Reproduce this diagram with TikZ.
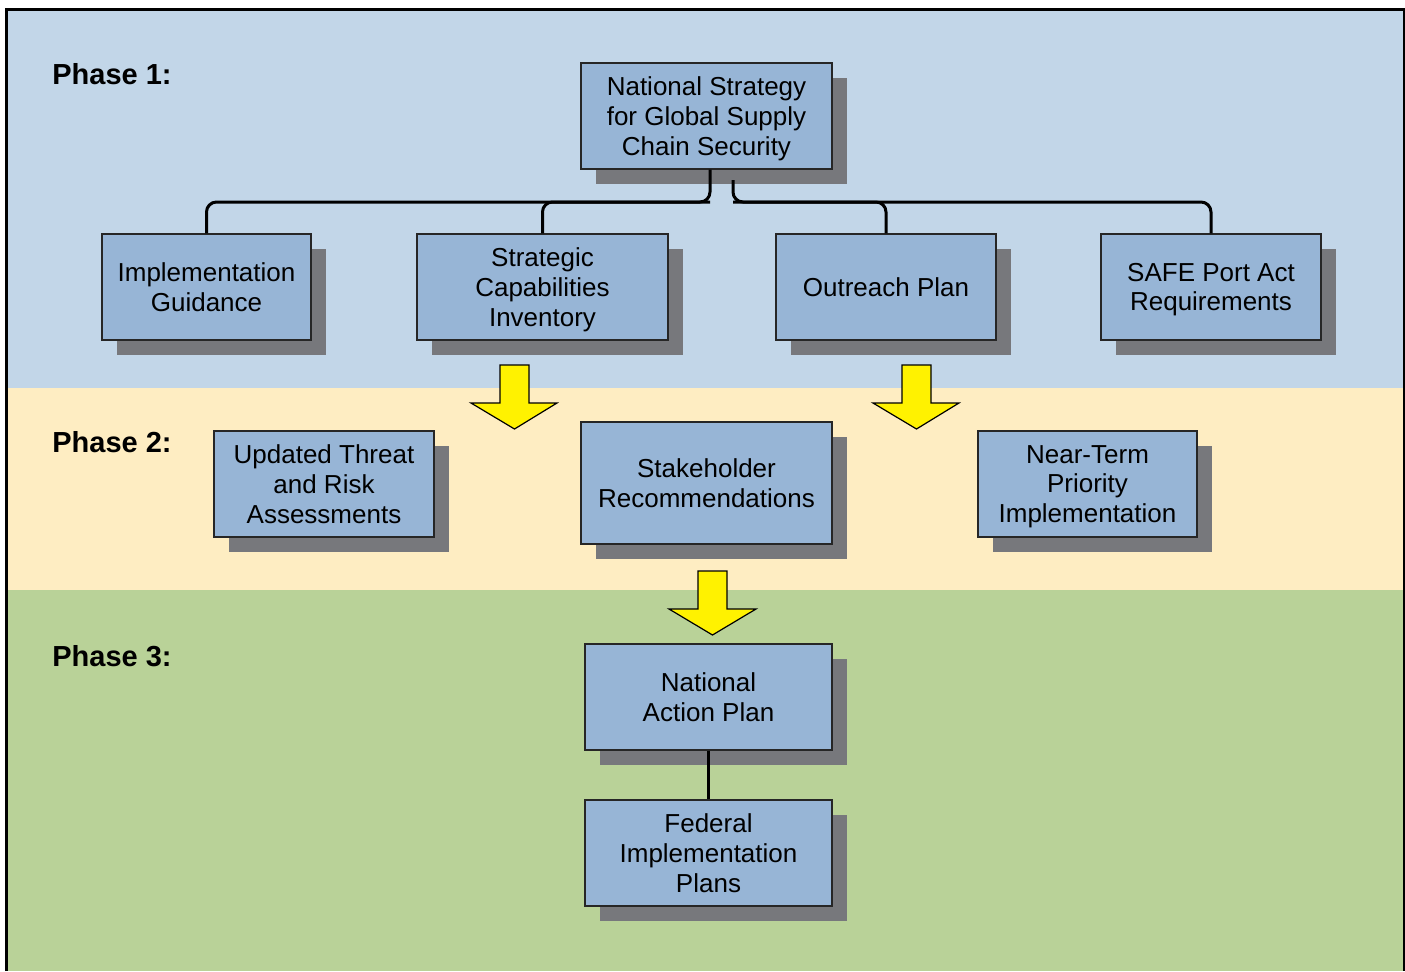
\documentclass[tikz,border=0pt]{standalone}
\usepackage{fontspec}
\setmainfont{Liberation Sans}
\usetikzlibrary{shadows,calc}
\definecolor{bandblue}{HTML}{C2D6E8}
\definecolor{bandyellow}{HTML}{FEEDC2}
\definecolor{bandgreen}{HTML}{B9D298}
\definecolor{boxfill}{HTML}{97B5D6}
\definecolor{shadowgray}{HTML}{77787C}
\definecolor{arrowyellow}{HTML}{FFF200}
\begin{document}
\begin{tikzpicture}[x=0.5pt,y=-0.5pt,
  stepbox/.style={draw=black!85, line width=0.7pt, fill=boxfill, align=center, inner sep=0pt,
    text depth=0pt,
    font=\fontsize{13pt}{14.8pt}\selectfont,
    drop shadow={shadow xshift=7.5pt, shadow yshift=-7.5pt, fill=shadowgray, opacity=1}},
  phaselabel/.style={anchor=west, font=\fontsize{14.5pt}{16pt}\selectfont\bfseries, inner sep=0pt},
  conn/.style={line width=1.5pt, rounded corners=5pt},
  blockarrow/.style={draw=black, line width=0.6pt, fill=arrowyellow, line join=miter}]
\useasboundingbox (0,0) rectangle (1405,971);
\fill[white] (0,0) rectangle (1405,971);
% bands
\fill[bandblue] (6,9) rectangle (1404,388);
\fill[bandyellow] (6,388) rectangle (1404,590);
\fill[bandgreen] (6,590) rectangle (1404,971);
\draw[line width=1.5pt] (6,971) -- (6,9) -- (1404,9) -- (1404,971);

% phase labels
\node[phaselabel] (p1) at (52,74) {Phase 1:};
\node[phaselabel] (p2) at (52,442) {Phase 2:};
\node[phaselabel] (p3) at (52,656) {Phase 3:};

\coordinate (busL) at (710,202);
\coordinate (busR) at (733,202);

% boxes
\node[stepbox, minimum width=125.5pt, minimum height=53pt] (ns) at (706.5,116) {National Strategy\\for Global Supply\\Chain Security};
\node[stepbox, minimum width=104.5pt, minimum height=53pt] (ig) at (206.5,287) {Implementation\\Guidance};
\node[stepbox, minimum width=125.5pt, minimum height=53pt] (sci) at (542.5,287) {Strategic\\Capabilities\\Inventory};
\node[stepbox, minimum width=110pt, minimum height=53pt] (op) at (886,287) {Outreach Plan};
\node[stepbox, minimum width=110pt, minimum height=53pt] (safe) at (1211,287) {SAFE Port Act\\Requirements};
\node[stepbox, minimum width=110pt, minimum height=53pt] (utra) at (324,484) {Updated Threat\\and Risk\\Assessments};
\node[stepbox, minimum width=125.5pt, minimum height=61pt] (sr) at (706.5,483) {Stakeholder\\Recommendations};
\node[stepbox, minimum width=109.5pt, minimum height=53pt] (ntpi) at (1087.5,484) {Near-Term\\Priority\\Implementation};
\node[stepbox, minimum width=123.5pt, minimum height=53pt] (nap) at (708.5,697) {National\\Action Plan};
\node[stepbox, minimum width=123.5pt, minimum height=53pt] (fip) at (708.5,853) {Federal\\Implementation\\Plans};

% tree connectors
\draw[conn] ($(ns.south)+(3.5,0)$) -- (busL) -- (busL -| ig.north) -- (ig.north);
\draw[conn] (busL) -- (busL -| sci.north) -- (sci.north);
\draw[conn] (busR |- 0,180) -- (busR) -- (busR -| safe.north) -- (safe.north);
\draw[conn] (busR) -- (busR -| op.north) -- (op.north);
\draw[line width=1.5pt] (nap.south) -- (fip.north);

% yellow block arrows
\draw[blockarrow] (500,365) -- (529,365) -- (529,403) -- (557,403) -- (514.5,429) -- (471,403) -- (500,403) -- cycle;
\draw[blockarrow] (902,365) -- (931,365) -- (931,403) -- (959,403) -- (916.5,429) -- (873,403) -- (902,403) -- cycle;
\draw[blockarrow] (698,571) -- (727,571) -- (727,609) -- (756,609) -- (712.5,635) -- (669,609) -- (698,609) -- cycle;
\end{tikzpicture}
\end{document}
